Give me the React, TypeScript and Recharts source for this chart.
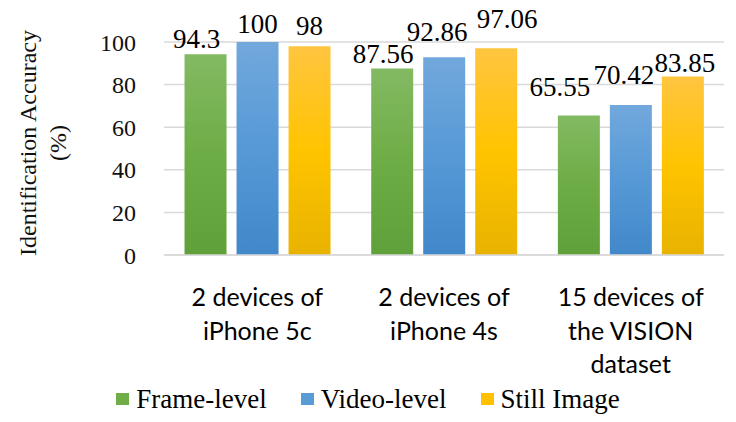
import { BarChart, Bar, XAxis, YAxis, CartesianGrid, Legend, LabelList, Label } from "recharts"

const categories = ["2 devices of\niPhone 5c", "2 devices of\niPhone 4s", "15 devices of\nthe VISION\ndataset"]
const frameLevel = [94.3, 87.56, 65.55]
const videoLevel = [100, 92.86, 70.42]
const stillImage = [98, 97.06, 83.85]
const yTicks = [0, 20, 40, 60, 80, 100]

const data = categories.map((name, i) => ({
  name,
  "Frame-level": frameLevel[i],
  "Video-level": videoLevel[i],
  "Still Image": stillImage[i],
}))

const serif = "'Liberation Serif', 'Times New Roman', serif"
const sans = "Lato, 'Open Sans', sans-serif"

// hand-placed label nudges from the source (px, per category)
const series = [
  { key: "Frame-level", grad: "gGreen", swatch: "#70AD47", dx: [-9, -9, -19], lift: [6, 5.5, 19] },
  { key: "Video-level", grad: "gBlue", swatch: "#5B9BD5", dx: [0, -7, -7], lift: [9, 16, 21] },
  { key: "Still Image", grad: "gYellow", swatch: "#FFC000", dx: [0, 11, 2], lift: [11, 20, 4] },
]

function CategoryTick(props: any) {
  const { x, y, payload } = props
  const lines = String(payload.value).split("\n")
  return (
    <text x={x} y={y} textAnchor="middle" fontFamily={sans} fontSize={25} fill="#000">
      {lines.map((l, i) => (
        <tspan key={i} x={x} dy={i === 0 ? 43 : 33.5}>{l}</tspan>
      ))}
    </text>
  )
}

function AxisTitle() {
  return (
    <text transform="translate(36,143) rotate(-90)" textAnchor="middle" fontFamily={serif} fontSize={24} fill="#111">
      <tspan x={0} dy={0}>Identification Accuracy</tspan>
      <tspan x={0} dy={30}>(%)</tspan>
    </text>
  )
}

function makeLabel(dx: number[], lift: number[]) {
  return (props: any) => {
    const { x, y, width, value, index } = props
    return (
      <text x={x + width / 2 + dx[index]} y={y - lift[index]} textAnchor="middle" fontFamily={serif} fontSize={27} fill="#000">
        {value}
      </text>
    )
  }
}

function LegendContent() {
  return (
    <div style={{ display: "flex", justifyContent: "center", alignItems: "center", height: 36, paddingLeft: 12, fontFamily: serif, fontSize: 27, color: "#000" }}>
      {series.map((s, i) => (
        <div key={s.key} style={{ display: "flex", alignItems: "center", marginLeft: i === 0 ? 0 : 34 }}>
          <span style={{ width: 13, height: 12, background: s.swatch, marginRight: 7, display: "inline-block" }} />
          <span>{s.key}</span>
        </div>
      ))}
    </div>
  )
}

export default function App() {
  return (
    <div style={{ position: "absolute", left: 0, top: 0, background: "#fff" }}>
      <BarChart
        width={736}
        height={422}
        data={data}
        margin={{ top: 42, right: 12, bottom: 5, left: 0 }}
        barGap={10}
        barCategoryGap="11%"
      >
        <defs>
          <linearGradient id="gGreen" x1="0" y1="0" x2="0" y2="1">
            <stop offset="0%" stopColor="#82BA63" />
            <stop offset="50%" stopColor="#6EAD45" />
            <stop offset="100%" stopColor="#5FA03A" />
          </linearGradient>
          <linearGradient id="gBlue" x1="0" y1="0" x2="0" y2="1">
            <stop offset="0%" stopColor="#72A8DC" />
            <stop offset="50%" stopColor="#5699D6" />
            <stop offset="100%" stopColor="#4188CA" />
          </linearGradient>
          <linearGradient id="gYellow" x1="0" y1="0" x2="0" y2="1">
            <stop offset="0%" stopColor="#FFC540" />
            <stop offset="50%" stopColor="#FFC400" />
            <stop offset="100%" stopColor="#E8B300" />
          </linearGradient>
        </defs>
        <CartesianGrid vertical={false} stroke="#D9D9D9" strokeWidth={1.5} />
        <XAxis
          dataKey="name"
          height={126}
          interval={0}
          tick={<CategoryTick />}
          tickLine={false}
          axisLine={{ stroke: "#D9D9D9", strokeWidth: 1.5 }}
        />
        <YAxis
          width={164}
          domain={[0, 100]}
          ticks={yTicks}
          tickLine={false}
          axisLine={false}
          tickMargin={22}
          tick={{ fontFamily: serif, fontSize: 24, fill: "#111" }}
        >
          <Label content={<AxisTitle />} />
        </YAxis>
        <Legend verticalAlign="bottom" height={36} content={<LegendContent />} />
        {series.map((s) => (
          <Bar key={s.key} dataKey={s.key} fill={`url(#${s.grad})`} isAnimationActive={false}>
            <LabelList dataKey={s.key} content={makeLabel(s.dx, s.lift)} />
          </Bar>
        ))}
      </BarChart>
    </div>
  )
}
